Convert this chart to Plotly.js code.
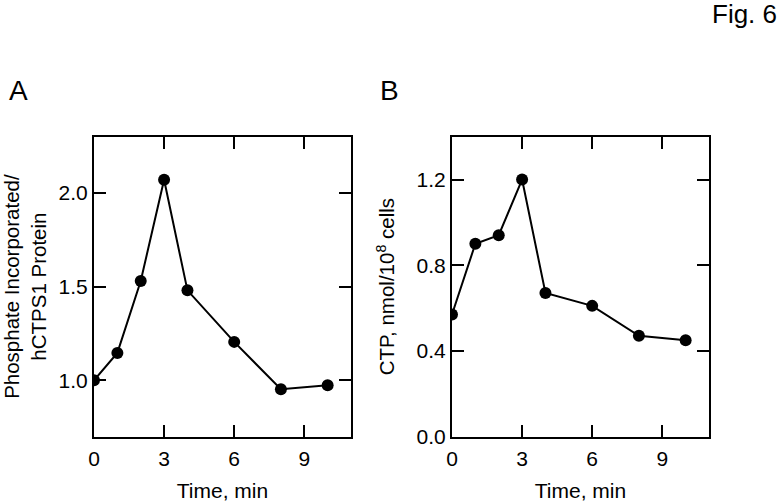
<!DOCTYPE html>
<html>
<head>
<meta charset="utf-8">
<script src="https://cdn.plot.ly/plotly-3.0.1.min.js"></script>
<style>html,body{margin:0;padding:0;background:#fff;}#chart{width:779px;height:504px;}</style>
</head>
<body>
<div id="chart"></div>
<script>
const timeMin = [0, 1, 2, 3, 4, 6, 8, 10];
const phosphateRatio = [1.0, 1.146, 1.53, 2.07, 1.48, 1.205, 0.952, 0.973];
const ctpLevel = [0.57, 0.90, 0.94, 1.20, 0.67, 0.61, 0.47, 0.45];
const xTicks = [0, 3, 6, 9];
const yTicksA = [1.0, 1.5, 2.0];
const yTicksB = [0.0, 0.4, 0.8, 1.2];

const FONT = 'Liberation Sans, Arial, Helvetica, sans-serif';
const W = 779, H = 504;

const traceStyle = {
  mode: 'lines+markers',
  line: {color: '#000', width: 2},
  marker: {color: '#000', size: 12},
  showlegend: false,
  hoverinfo: 'x+y'
};

const data = [
  Object.assign({x: timeMin, y: phosphateRatio, xaxis: 'x', yaxis: 'y'}, traceStyle),
  Object.assign({x: timeMin, y: ctpLevel, xaxis: 'x2', yaxis: 'y2'}, traceStyle)
];

function axisBase() {
  return {
    showline: true, linecolor: '#000', linewidth: 2,
    mirror: 'ticks', ticks: 'inside', ticklen: 12, tickwidth: 2, tickcolor: '#000',
    showgrid: false, zeroline: false,
    tickfont: {family: FONT, size: 21, color: '#000'},
    fixedrange: true
  };
}

const yDom = [1 - 436.5 / H, 1 - 136.7 / H];
const xTitleFont = {family: FONT, size: 21, color: '#000'};
const yTitleFont = {family: FONT, size: 20.5, color: '#000'};

const layout = {
  width: W, height: H,
  margin: {l: 0, r: 0, t: 0, b: 0},
  paper_bgcolor: '#fff', plot_bgcolor: '#fff',
  font: {family: FONT, color: '#000'},
  xaxis: Object.assign(axisBase(), {
    domain: [94 / W, 351 / W], range: [0, 11], tickvals: xTicks, anchor: 'y',
    ticklabelstandoff: 2,
    title: {text: 'Time, min', font: xTitleFont, standoff: 15}
  }),
  yaxis: Object.assign(axisBase(), {
    domain: yDom, range: [0.7, 2.3], tickvals: yTicksA, tickformat: '.1f', anchor: 'x',
    title: {text: 'Phosphate Incorporated/<br>hCTPS1 Protein', font: yTitleFont, standoff: 15}
  }),
  xaxis2: Object.assign(axisBase(), {
    domain: [452 / W, 709 / W], range: [0, 11], tickvals: xTicks, anchor: 'y2',
    ticklabelstandoff: 2,
    title: {text: 'Time, min', font: xTitleFont, standoff: 15}
  }),
  yaxis2: Object.assign(axisBase(), {
    domain: yDom, range: [0, 1.4], tickvals: yTicksB, tickformat: '.1f', anchor: 'x2',
    title: {text: 'CTP, nmol/10<sup>8</sup> cells', font: yTitleFont, standoff: 16}
  }),
  annotations: [
    {text: 'A', xref: 'paper', yref: 'paper', x: 7 / W, y: 1 - 90 / H, xanchor: 'left', yanchor: 'middle', showarrow: false, font: {family: FONT, size: 28, color: '#000'}},
    {text: 'B', xref: 'paper', yref: 'paper', x: 378 / W, y: 1 - 90 / H, xanchor: 'left', yanchor: 'middle', showarrow: false, font: {family: FONT, size: 28, color: '#000'}},
    {text: 'Fig. 6', xref: 'paper', yref: 'paper', x: 1, y: 1 - 14 / H, xanchor: 'right', yanchor: 'middle', showarrow: false, font: {family: FONT, size: 26, color: '#000'}}
  ]
};

Plotly.newPlot('chart', data, layout, {displayModeBar: false, staticPlot: true});
</script>
</body>
</html>
